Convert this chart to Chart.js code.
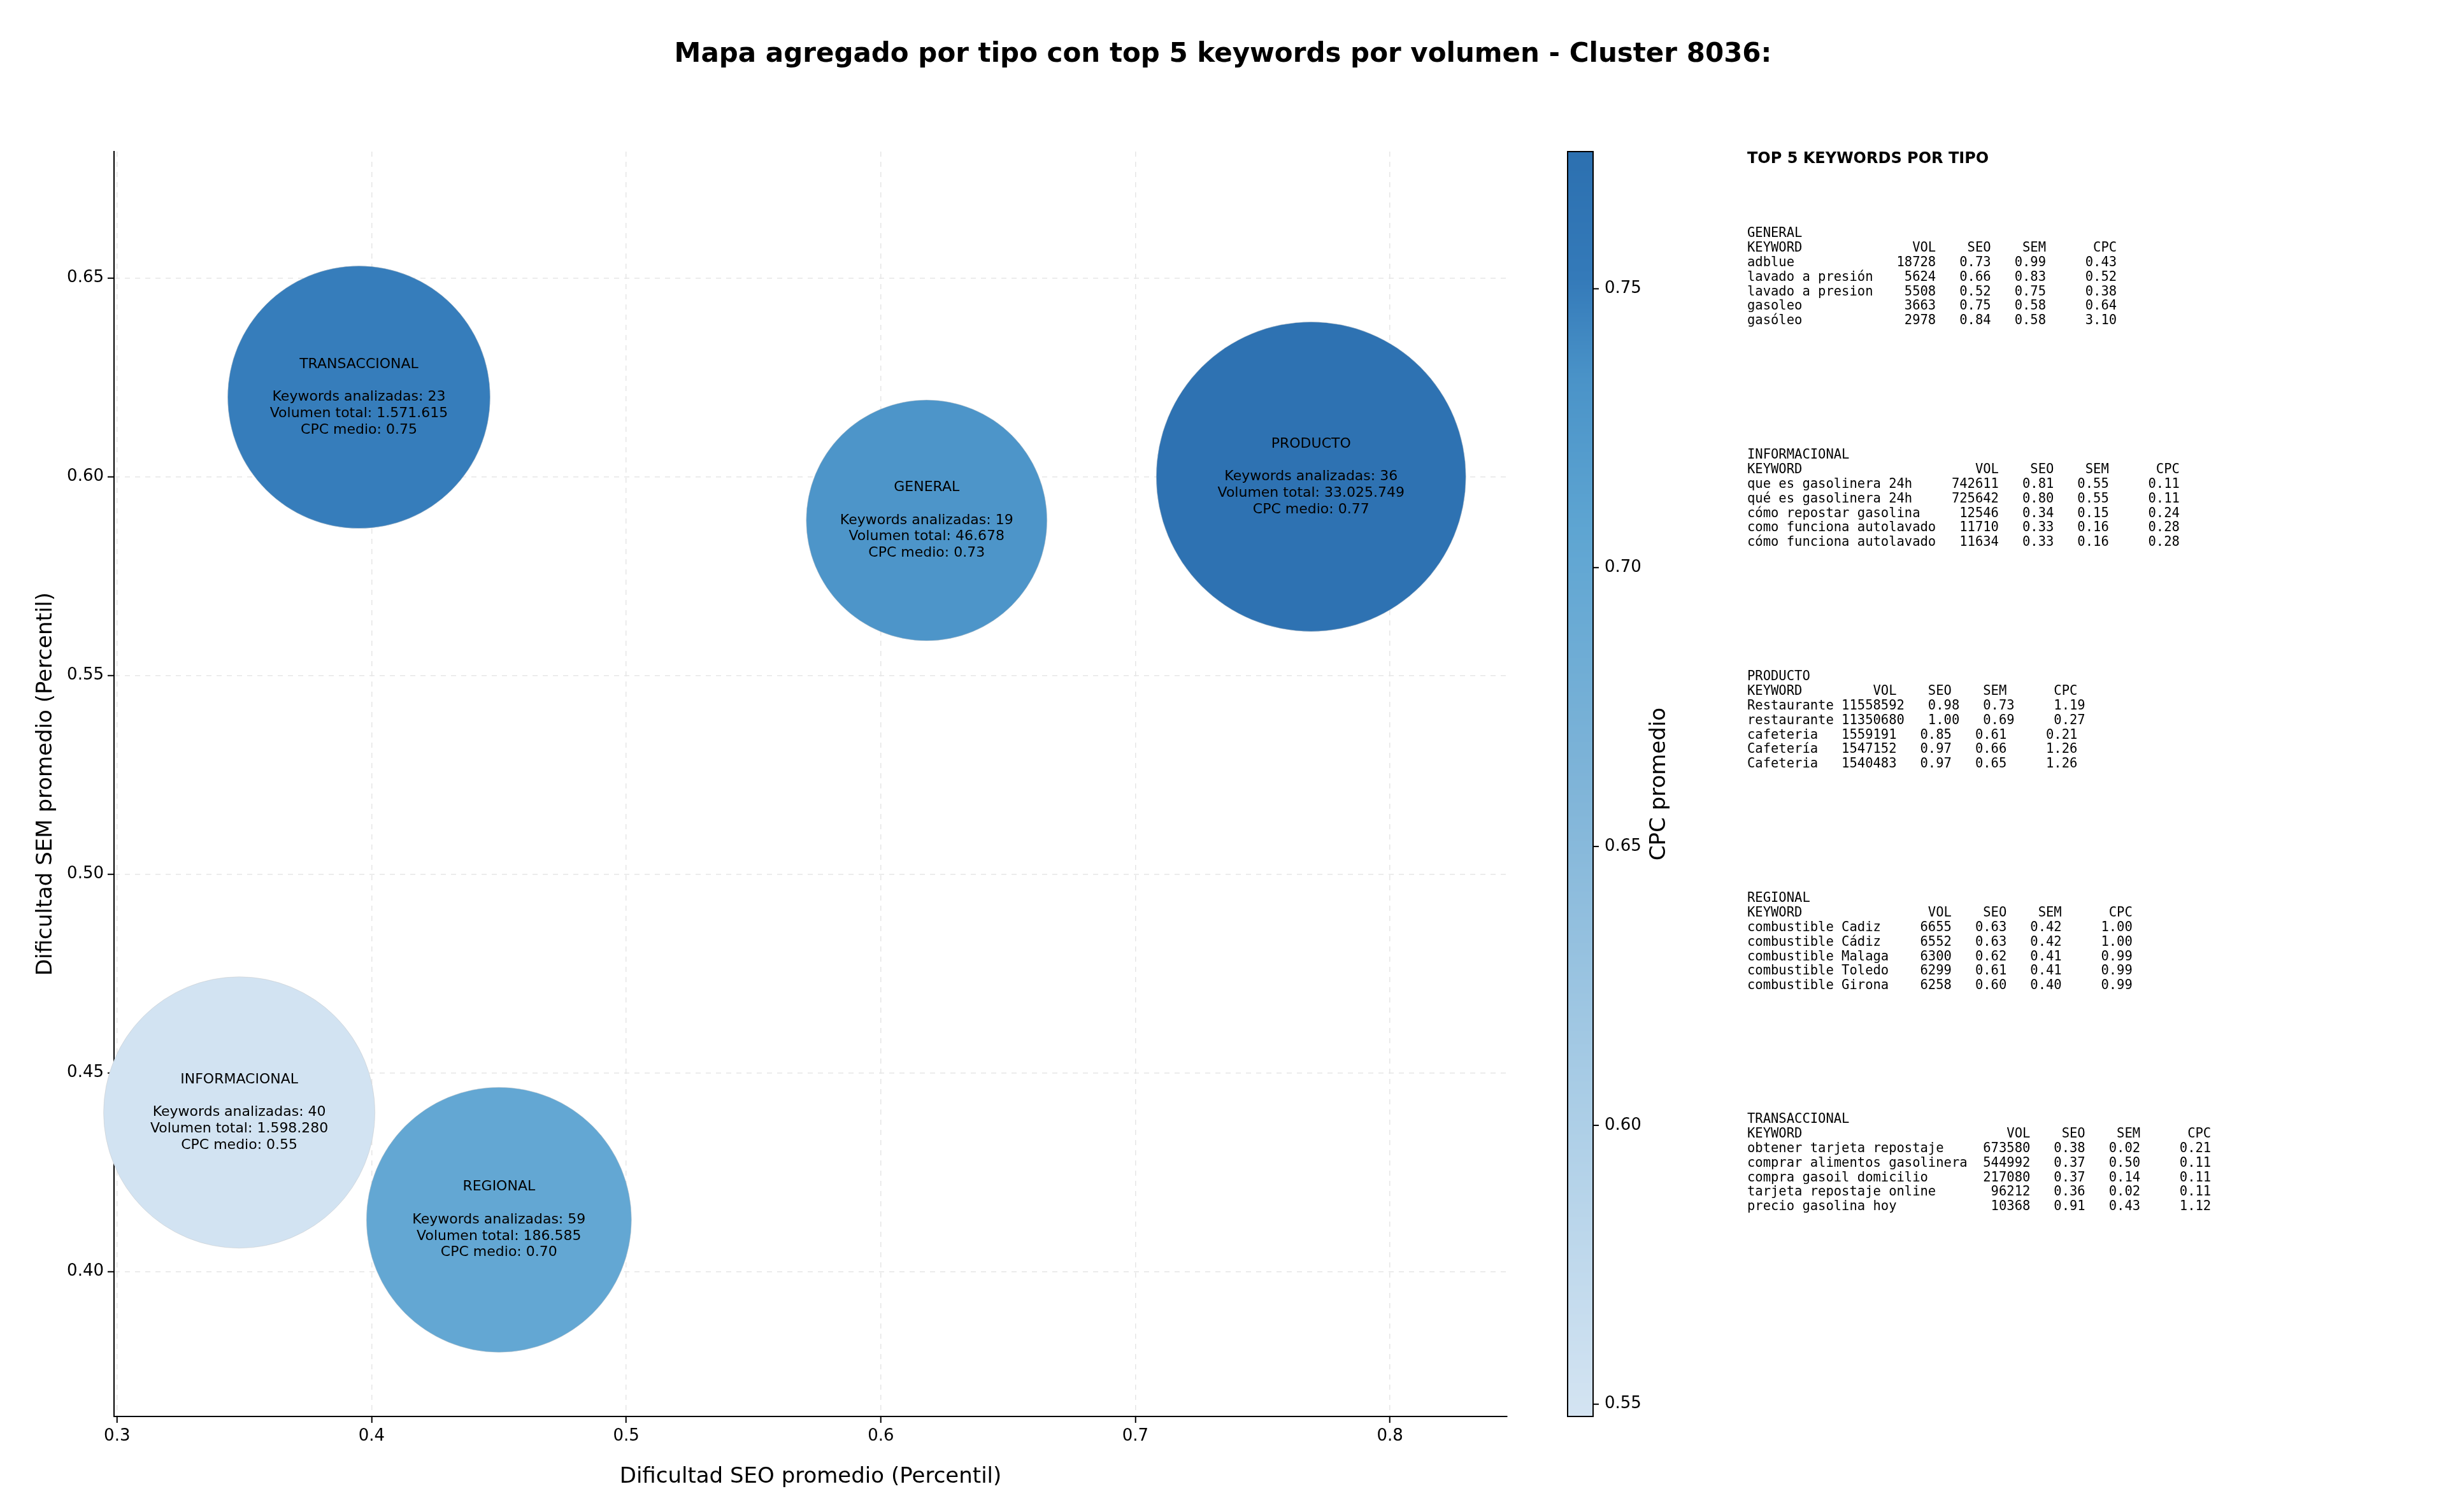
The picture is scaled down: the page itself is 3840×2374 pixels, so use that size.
<!DOCTYPE html>
<html><head><meta charset="utf-8">
<script src="https://cdn.jsdelivr.net/npm/chart.js@4"></script>
<style>html,body{margin:0;padding:0;background:#fff}#wrap{width:3840px;height:2374px}</style>
</head><body><div id="wrap"><canvas id="c" width="3840" height="2374"></canvas></div>
<script>
// ---- data ----
const types = ['TRANSACCIONAL','GENERAL','PRODUCTO','INFORMACIONAL','REGIONAL'];
const seoAvg = [0.395, 0.618, 0.769, 0.348, 0.450];
const semAvg = [0.620, 0.589, 0.600, 0.440, 0.413];
const cpcAvg = [0.75, 0.73, 0.77, 0.55, 0.70];
const kwCount = [23, 19, 36, 40, 59];
const volTotal = [1571615, 46678, 33025749, 1598280, 186585];
const bubbleRadius = [206, 189, 243, 213, 208];
const xTicks = [0.3, 0.4, 0.5, 0.6, 0.7, 0.8];
const yTicks = [0.40, 0.45, 0.50, 0.55, 0.60, 0.65];
const cbTicks = [0.55, 0.60, 0.65, 0.70, 0.75];

const tableTypes = ['GENERAL','INFORMACIONAL','PRODUCTO','REGIONAL','TRANSACCIONAL'];
const tableKw = [
 ['adblue','lavado a presión','lavado a presion','gasoleo','gasóleo'],
 ['que es gasolinera 24h','qué es gasolinera 24h','cómo repostar gasolina','como funciona autolavado','cómo funciona autolavado'],
 ['Restaurante','restaurante','cafeteria','Cafetería','Cafeteria'],
 ['combustible Cadiz','combustible Cádiz','combustible Malaga','combustible Toledo','combustible Girona'],
 ['obtener tarjeta repostaje','comprar alimentos gasolinera','compra gasoil domicilio','tarjeta repostaje online','precio gasolina hoy']];
const tableVol = [
 [18728,5624,5508,3663,2978],
 [742611,725642,12546,11710,11634],
 [11558592,11350680,1559191,1547152,1540483],
 [6655,6552,6300,6299,6258],
 [673580,544992,217080,96212,10368]];
const tableSeo = [
 [0.73,0.66,0.52,0.75,0.84],[0.81,0.80,0.34,0.33,0.33],[0.98,1.00,0.85,0.97,0.97],
 [0.63,0.63,0.62,0.61,0.60],[0.38,0.37,0.37,0.36,0.91]];
const tableSem = [
 [0.99,0.83,0.75,0.58,0.58],[0.55,0.55,0.15,0.16,0.16],[0.73,0.69,0.61,0.66,0.65],
 [0.42,0.42,0.41,0.41,0.40],[0.02,0.50,0.14,0.02,0.43]];
const tableCpc = [
 [0.43,0.52,0.38,0.64,3.10],[0.11,0.11,0.24,0.28,0.28],[1.19,0.27,0.21,1.26,1.26],
 [1.00,1.00,0.99,0.99,0.99],[0.21,0.11,0.11,0.11,1.12]];

// ---- style ----
const CB_MIN = 0.5478, CB_MAX = 0.7746;
const stops = [[0,[212,228,242]],[0.25,[170,205,230]],[0.5,[127,180,216]],[0.7,[94,165,210]],[0.82,[74,147,200]],[0.9,[52,122,185]],[1,[44,112,176]]];
function cmap(v){
  let t=(v-CB_MIN)/(CB_MAX-CB_MIN); t=Math.max(0,Math.min(1,t));
  for(let i=1;i<stops.length;i++){ if(t<=stops[i][0]){const a=stops[i-1],b=stops[i];const f=(t-a[0])/(b[0]-a[0]);
    const c=a[1].map((x,k)=>Math.round(x+(b[1][k]-x)*f)); return `rgb(${c[0]},${c[1]},${c[2]})`;}}
  const c=stops[stops.length-1][1]; return `rgb(${c[0]},${c[1]},${c[2]})`;
}
const fmtVol = v => v.toString().replace(/\B(?=(\d{3})+(?!\d))/g,'.');
const FONT='DejaVu Sans';

// bubbles must not shrink the plot area
Chart.BubbleController.prototype.getMaxOverflow = function(){ return 0; };

const overlay = {
  id:'overlay',
  afterDatasetsDraw(chart){
    const ctx=chart.ctx, xs=chart.scales.x, ys=chart.scales.y;
    ctx.save();
    ctx.fillStyle='#000'; ctx.font=`22px ${FONT}`; ctx.textAlign='center'; ctx.textBaseline='middle';
    types.forEach((t,i)=>{
      const cx=xs.getPixelForValue(seoAvg[i]), cy=ys.getPixelForValue(semAvg[i]);
      const lines=[t,'',`Keywords analizadas: ${kwCount[i]}`,`Volumen total: ${fmtVol(volTotal[i])}`,`CPC medio: ${cpcAvg[i].toFixed(2)}`];
      lines.forEach((l,k)=>ctx.fillText(l,cx,cy+(k-2)*25.7));
    });
    ctx.restore();
  },
  afterDraw(chart){
    const ctx=chart.ctx, ca=chart.chartArea;
    ctx.save();
    ctx.fillStyle='#000'; ctx.font=`bold 42px ${FONT}`; ctx.textAlign='center'; ctx.textBaseline='middle';
    ctx.fillText('Mapa agregado por tipo con top 5 keywords por volumen - Cluster 8036:', 1920, 86);
    const cbL=2461, cbR=2501, cbT=ca.top, cbB=ca.bottom;
    for(let y=cbT;y<cbB;y++){ const v=CB_MAX-(y-cbT)/(cbB-cbT)*(CB_MAX-CB_MIN); ctx.fillStyle=cmap(v); ctx.fillRect(cbL,y,cbR-cbL,1.5);}
    ctx.strokeStyle='#000'; ctx.lineWidth=2; ctx.strokeRect(cbL,cbT,cbR-cbL,cbB-cbT);
    ctx.font=`26px ${FONT}`; ctx.textAlign='left'; ctx.fillStyle='#000';
    cbTicks.forEach(v=>{ const y=cbB-(v-CB_MIN)/(CB_MAX-CB_MIN)*(cbB-cbT);
      ctx.beginPath(); ctx.moveTo(cbR,y); ctx.lineTo(cbR+9,y); ctx.stroke(); ctx.fillText(v.toFixed(2),cbR+18,y);});
    ctx.save(); ctx.translate(2605,(cbT+cbB)/2); ctx.rotate(-Math.PI/2); ctx.textAlign='center';
    ctx.font=`34px ${FONT}`; ctx.fillText('CPC promedio',0,0); ctx.restore();
    const px=2743;
    ctx.font=`bold 24px ${FONT}`; ctx.textAlign='left'; ctx.textBaseline='middle';
    ctx.fillText('TOP 5 KEYWORDS POR TIPO',px,250);
    ctx.font=`20.5px "DejaVu Sans Mono"`;
    const blockY=[367,715,1063,1411,1758];
    tableTypes.forEach((t,b)=>{
      const w=Math.max(...tableKw[b].map(s=>s.length));
      const lines=[t,'KEYWORD'.padEnd(w)+'VOL'.padStart(8)+'SEO'.padStart(7)+'SEM'.padStart(7)+'CPC'.padStart(9)];
      tableKw[b].forEach((k,i)=>{
        let vol=String(tableVol[b][i]); vol=vol.length>=8?' '+vol:vol.padStart(8);
        lines.push(k.padEnd(w)+vol+tableSeo[b][i].toFixed(2).padStart(7)+tableSem[b][i].toFixed(2).padStart(7)+tableCpc[b][i].toFixed(2).padStart(9));
      });
      lines.forEach((l,k)=>ctx.fillText(l,px,blockY[b]+k*22.8));
    });
    ctx.restore();
  }
};

const gridOpts={color:'#e6e6e6',lineWidth:1.5,tickColor:'#000',tickLength:10,tickWidth:2};
new Chart(document.getElementById('c'),{
  type:'bubble',
  data:{datasets:[{
    data:types.map((t,i)=>({x:seoAvg[i],y:semAvg[i],r:bubbleRadius[i]})),
    backgroundColor:cpcAvg.map(v=>cmap(v)),
    borderColor:'rgba(200,200,200,0.5)', borderWidth:1, hoverRadius:0, clip:false
  }]},
  options:{
    responsive:false, animation:false, devicePixelRatio:1,
    layout:{padding:{left:48,right:1474,top:238,bottom:30}},
    plugins:{legend:{display:false},tooltip:{enabled:false}},
    scales:{
      x:{type:'linear',min:0.2988,max:0.846,
        afterBuildTicks:a=>{a.ticks=xTicks.map(v=>({value:v}));},
        afterFit:a=>{a.height=120;},
        ticks:{callback:v=>v.toFixed(1),font:{size:26,family:FONT},color:'#000',padding:6},
        grid:{...gridOpts}, border:{color:'#000',width:2,dash:[8,8]},
        title:{display:true,text:'Dificultad SEO promedio (Percentil)',font:{size:34,family:FONT},color:'#000',padding:{top:8}}
      },
      y:{type:'linear',min:0.3635,max:0.6818,
        afterBuildTicks:a=>{a.ticks=yTicks.map(v=>({value:v}));},
        afterFit:a=>{a.width=131;},
        ticks:{callback:v=>v.toFixed(2),font:{size:26,family:FONT},color:'#000',padding:6},
        grid:{...gridOpts}, border:{color:'#000',width:2,dash:[8,8]},
        title:{display:true,text:'Dificultad SEM promedio (Percentil)',font:{size:34,family:FONT},color:'#000',padding:{bottom:4}}
      }
    }
  },
  plugins:[overlay]
});
</script></body></html>
